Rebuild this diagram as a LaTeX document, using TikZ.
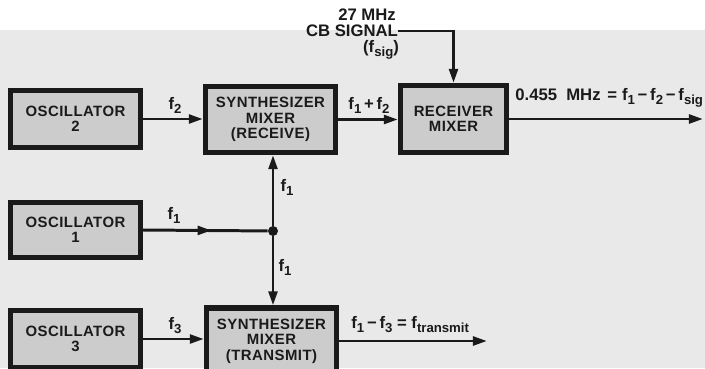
\documentclass[tikz,border=0pt]{standalone}
\usepackage{fontspec}
\setmainfont{Liberation Sans}
\newfontfamily\blkfont{Liberation Sans}[LetterSpace=3]
\usetikzlibrary{arrows.meta, decorations.markings}
\definecolor{ink}{HTML}{1A1A1A}
\definecolor{paper}{HTML}{E9E9E9}
\definecolor{boxfill}{HTML}{CCCCCC}
\newcommand{\lowidx}[1]{\raisebox{-0.45ex}{\fontsize{7.5}{8}\selectfont #1}}
\tikzset{
  blk/.style={draw=ink, fill=boxfill, line width=3pt, align=center, inner sep=2pt,
              font=\blkfont\fontsize{8.5}{8.8}\selectfont\bfseries, text=ink},
  fl/.style={-{Triangle[length=8pt, width=5pt]}, line width=1.7pt, draw=ink},
  ln/.style={line width=1.7pt, draw=ink},
  midarr/.style={postaction={decorate}, decoration={markings,
              mark=at position 0.55 with {\arrow{Triangle[length=8pt, width=5pt]}}}},
  lbl/.style={font=\fontsize{9.5}{10}\selectfont\bfseries, text=ink, inner sep=0pt},
  dot/.style={circle, fill=ink, inner sep=0pt, minimum size=0.2cm},
}

\begin{document}
\begin{tikzpicture}[x=0.02cm, y=-0.02cm]
    \fill[white] (0,0) rectangle (705,368);
    \fill[paper] (0,30) rectangle (705,368);
    \useasboundingbox (0,0) rectangle (705,368);
    \clip (0,0) rectangle (705,368);
    % blocks
    \node[blk, minimum width=2.6cm, minimum height=1.14cm] (osc2) at (75.5,119) {OSCILLATOR\\2};
    \node[blk, minimum width=2.6cm, minimum height=1.32cm] (synrx) at (270.5,119.5) {SYNTHESIZER\\MIXER\\(RECEIVE)};
    \node[blk, minimum width=2.12cm, minimum height=1.34cm] (rxmix) at (453.5,119) {RECEIVER\\MIXER};
    \node[blk, minimum width=2.6cm, minimum height=1.1cm] (osc1) at (75.5,230) {OSCILLATOR\\1};
    \node[blk, minimum width=2.6cm, minimum height=1.14cm] (osc3) at (75.5,339) {OSCILLATOR\\3};
    \node[blk, minimum width=2.6cm, minimum height=1.32cm] (syntx) at (271.5,341) {SYNTHESIZER\\MIXER\\(TRANSMIT)};
    \node[dot] (jn) at (273,231) {};
    \coordinate (out1) at (703,119);
    \coordinate (out2) at (487,341);
    % CB input
    \node[lbl] (mhz) at (367,15) {27 MHz};
    \node[lbl] (cb) at (352,31) {CB SIGNAL};
    \node[lbl] (fsig) at (381,50) {(f\lowidx{sig})};
    % labels
    \node[lbl] (lf2) at (175,105) {f\lowidx{2}};
    \node[lbl] (lf12) at (369,105) {f\lowidx{1}\,+\,f\lowidx{2}};
    \node[lbl, anchor=west] (lout) at (515,98) {0.455\hspace{0.55em}MHz\hspace{0.4em}=\hspace{0.3em}f\lowidx{1}\,−\,f\lowidx{2}\,−\,f\lowidx{sig}};
    \node[lbl] (lf1) at (174,215) {f\lowidx{1}};
    \node[lbl] (lf1up) at (287,187) {f\lowidx{1}};
    \node[lbl] (lf1dn) at (285,267) {f\lowidx{1}};
    \node[lbl] (lf3) at (175,326) {f\lowidx{3}};
    \node[lbl, anchor=west] (ltx) at (351,325) {f\lowidx{1}\,−\,f\lowidx{3} = f\lowidx{transmit}};
    % connectors
    \draw[fl] (osc2.east) -- (osc2.east -| synrx.west);
    \draw[fl] (synrx.east) -- (synrx.east -| rxmix.west);
    \draw[fl] (rxmix.east) -- (out1);
    \draw[fl] (cb.east) -| (rxmix.north);
    \draw[ln, midarr] (osc1.east) -- (jn);
    \draw[fl] (jn) -- (jn |- synrx.south);
    \draw[fl] (jn) -- (jn |- syntx.north);
    \draw[fl] (osc3.east) -- (osc3.east -| syntx.west);
    \draw[fl] (syntx.east) -- (out2);
\end{tikzpicture}
\end{document}
